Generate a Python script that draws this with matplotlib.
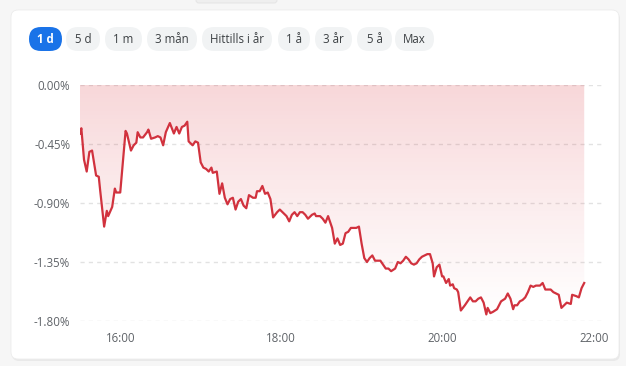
import numpy as np
import matplotlib.pyplot as plt
import matplotlib.transforms as mtransforms
from matplotlib.patches import FancyBboxPatch

plt.rcParams['font.family'] = ['Open Sans', 'DejaVu Sans']

# tidsknappar
ranges = ["1 d", "5 d", "1 m", "3 mån", "Hittills i år", "1 å", "3 år", "5 å", "Max"]
selected = "1 d"

# minuter efter 15:30, förändring i procent
minutes = [0, 1, 3, 5, 7, 9, 12, 14, 15, 18, 20, 21, 24, 26, 27, 30, 34, 35, 38, 40,
           42, 43, 45, 47, 50, 51, 53, 56, 58, 60, 62, 64, 67, 70, 72, 74, 76, 78, 80, 81,
           84, 86, 88, 90, 92, 94, 96, 98, 99, 102, 104, 106, 108, 110, 112, 114, 116, 118, 120, 122,
           124, 126, 129, 131, 132, 134, 136, 138, 140, 142, 144, 147, 149, 152, 154, 156, 158, 160, 162, 164,
           166, 168, 170, 173, 175, 176, 179, 181, 183, 185, 188, 190, 192, 194, 196, 198, 200, 202, 206, 208,
           210, 212, 214, 216, 218, 220, 223, 224, 226, 228, 230, 232, 235, 237, 239, 241, 243, 245, 247, 249,
           251, 253, 255, 257, 259, 261, 263, 264, 266, 268, 270, 271, 273, 275, 276, 278, 279, 281, 282, 284,
           287, 289, 291, 293, 295, 297, 299, 301, 303, 304, 306, 308, 311, 313, 314, 317, 319, 321, 323, 324,
           326, 328, 330, 332, 334, 336, 338, 340, 342, 343, 345, 347, 349, 351, 353, 355, 357, 359, 361, 363,
           366, 367, 370, 372, 374, 376]
change = [-0.37, -0.33, -0.57, -0.66, -0.51, -0.50, -0.69, -0.70, -0.80, -1.08, -0.96, -1.00, -0.93, -0.79, -0.82, -0.82, -0.35, -0.37, -0.50, -0.46,
          -0.44, -0.36, -0.40, -0.40, -0.36, -0.34, -0.41, -0.40, -0.39, -0.40, -0.46, -0.36, -0.29, -0.37, -0.32, -0.37, -0.32, -0.31, -0.28, -0.43,
          -0.46, -0.43, -0.44, -0.59, -0.63, -0.64, -0.66, -0.63, -0.67, -0.66, -0.83, -0.75, -0.86, -0.91, -0.87, -0.86, -0.95, -0.89, -0.87, -0.92,
          -0.94, -0.84, -0.86, -0.86, -0.81, -0.81, -0.77, -0.83, -0.82, -0.87, -1.01, -0.97, -0.95, -0.98, -1.00, -1.04, -0.99, -0.97, -1.00, -0.97,
          -0.97, -0.99, -1.02, -0.99, -0.98, -1.00, -1.00, -1.02, -1.05, -1.00, -1.09, -1.21, -1.17, -1.22, -1.21, -1.13, -1.12, -1.09, -1.09, -1.08,
          -1.21, -1.32, -1.35, -1.32, -1.30, -1.34, -1.34, -1.34, -1.37, -1.40, -1.40, -1.42, -1.40, -1.35, -1.36, -1.34, -1.31, -1.33, -1.36, -1.37,
          -1.36, -1.33, -1.31, -1.30, -1.29, -1.29, -1.36, -1.46, -1.39, -1.37, -1.46, -1.46, -1.51, -1.48, -1.53, -1.52, -1.55, -1.56, -1.58, -1.72,
          -1.68, -1.65, -1.62, -1.65, -1.65, -1.63, -1.62, -1.66, -1.75, -1.70, -1.74, -1.73, -1.71, -1.67, -1.65, -1.63, -1.59, -1.63, -1.71, -1.68,
          -1.68, -1.65, -1.64, -1.62, -1.58, -1.53, -1.54, -1.53, -1.53, -1.53, -1.51, -1.56, -1.56, -1.56, -1.58, -1.59, -1.60, -1.70, -1.68, -1.66,
          -1.67, -1.60, -1.61, -1.62, -1.55, -1.51]

y_ticks = [0.0, -0.45, -0.90, -1.35, -1.80]
x_ticks = [30, 150, 270, 390]
x_labels = ["16:00", "18:00", "20:00", "22:00"]

W, H = 626, 366
fig = plt.figure(figsize=(W / 100, H / 100), dpi=100)
fig.patch.set_facecolor('#f6f6f6')

# bakgrund: kort + knappar, i pixlar
bg = fig.add_axes([0, 0, 1, 1])
bg.set_xlim(0, W)
bg.set_ylim(H, 0)
bg.axis('off')
bg.add_patch(FancyBboxPatch((196, -6), 81, 9, boxstyle="round,pad=0,rounding_size=3",
                            fc='#efefef', ec='#e6e6e6', lw=0.8))
bg.add_patch(FancyBboxPatch((12, 12), 608, 349, boxstyle="round,pad=0,rounding_size=7",
                            fc='#e9e9e9', ec='none'))
bg.add_patch(FancyBboxPatch((11, 10), 608, 349, boxstyle="round,pad=0,rounding_size=7",
                            fc='white', ec='#ececec', lw=0.6))

btn_x = [(29, 62), (66, 100), (105, 142), (147, 197), (202, 272), (278, 310), (315, 352), (357, 392), (395, 434)]
for name, (x0, x1) in zip(ranges, btn_x):
    on = name == selected
    bg.add_patch(FancyBboxPatch((x0, 27), x1 - x0, 24, boxstyle="round,pad=0,rounding_size=12",
                                fc='#1a73e8' if on else '#f1f3f4', ec='none'))
    bg.text((x0 + x1) / 2, 39.5, name, ha='center', va='center', fontsize=8.3,
            color='white' if on else '#3c4043', fontweight='bold' if on else 'normal')

# diagram
ax = fig.add_axes([80 / W, 1 - 321 / H, 525 / W, 236 / H])
ax.set_facecolor('none')
ax.set_xlim(0, 391.5)
ax.set_ylim(-1.8, 0)

for v in y_ticks:
    ax.axhline(v, color='#e2e2e2', lw=1, ls=(0, (3, 3)), zorder=1)

poly = ax.fill_between(minutes, change, 0, color='none', lw=0)
grad = np.linspace(0, 1, 256).reshape(-1, 1)
rgba = np.zeros((256, 1, 4))
rgba[..., 0] = 0.86
rgba[..., 1] = 0.22
rgba[..., 2] = 0.26
rgba[..., 3] = 0.20 * (1 - grad[:, 0:1]) ** 1.1
img = ax.imshow(rgba, extent=(0, 391.5, -1.8, 0), origin='upper', aspect='auto', zorder=2)
img.set_clip_path(poly.get_paths()[0], transform=ax.transData)

ax.plot(minutes, change, color='#d1323e', lw=1.6, zorder=3, solid_joinstyle='round')

ax.set_yticks(y_ticks)
ax.set_yticklabels([f"{v:.2f}%" for v in y_ticks])
ax.set_xticks(x_ticks)
ax.set_xticklabels(x_labels)
ax.tick_params(length=0, labelsize=8.3, labelcolor='#5f6368')
ax.tick_params(axis='y', pad=7)
ax.tick_params(axis='x', pad=8)
for s in ax.spines.values():
    s.set_visible(False)

# sista etiketten hålls inom kortet
last = ax.get_xticklabels()[-1]
last.set_transform(last.get_transform() + mtransforms.ScaledTranslation(-9 / 100, 0, fig.dpi_scale_trans))

fig.savefig('out.png', dpi=100, facecolor=fig.get_facecolor())
